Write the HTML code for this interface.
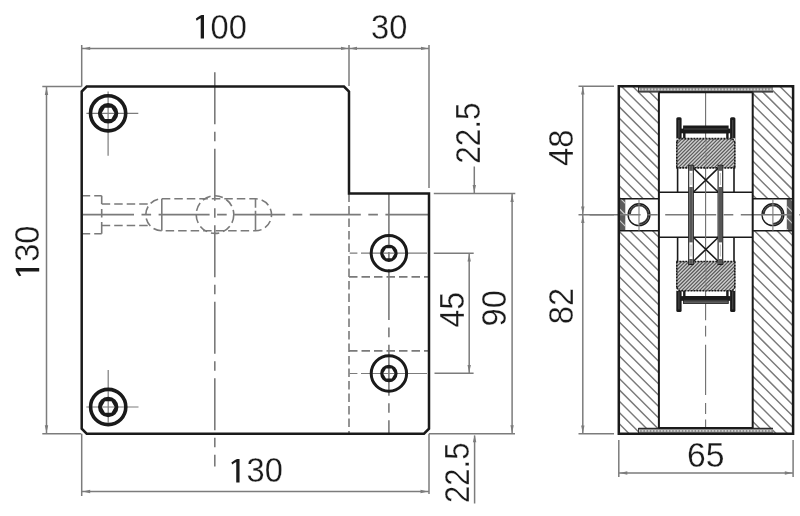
<!DOCTYPE html>
<html><head><meta charset="utf-8"><style>
html,body{margin:0;padding:0;background:#fff;width:800px;height:516px;overflow:hidden}
svg{display:block;filter:grayscale(1)}
.t text{font-family:"Liberation Sans",sans-serif;font-size:35.5px;fill:#1a1a1a;stroke:#fff;stroke-width:0.3px}
.t path{fill:#1a1a1a}
.g{stroke:#7c7c7c;stroke-width:1.5;fill:none}
.d{stroke:#7a7a7a;stroke-width:1.6;fill:none;stroke-dasharray:8.5 4}
.c{stroke:#7a7a7a;stroke-width:1.6;fill:none;stroke-dasharray:51 7.5 9.6 7.5}
.k{stroke:#1a1a1a;stroke-width:2.5;fill:none}
.kk{stroke:#1a1a1a;stroke-width:1.6;fill:none}
</style></head><body>
<svg width="800" height="516" viewBox="0 0 800 516">
<g class="d">
<path d="M81.7,195.7H101.7 M81.7,233.7H101.7 M101.7,204H149 M101.7,225.5H149"/>
<path d="M101.7,195.7V233.7" stroke-dasharray="8.3 5 8.5 4.5 12 10"/>
<path d="M161.8,198.8H255.5 A16,16 0 0 1 255.5,230.8 H161.8 A16,16 0 0 1 161.8,198.8 Z"/>
<circle cx="215" cy="214.6" r="18.8"/>
<path d="M349,193.5V433.7 M349,276.9H429 M349,350.9H429"/>
</g>
<path class="g" d="M161.8,198.8V230.8" style="stroke-width:1.6"/>
<path class="g" d="M255.5,198.8V230.8" style="stroke-width:1.6;stroke-dasharray:9 3 21"/>
<g class="c">
<path d="M214.8,72.2V466.4" style="stroke-dasharray:52 7.5 9.5 7.5"/>
<path d="M83,214.6H429"/>
<path d="M388.9,193.5V433.7"/>
</g>
<g class="t">
<text transform="translate(210.6,39) scale(0.92,1)">00</text>
<text transform="translate(371,39) scale(0.92,1)">30</text>
<text transform="translate(246.5,482) scale(0.92,1)">30</text>
<text transform="translate(39.2,261.8) rotate(-90) scale(0.92,1)">30</text>
<path d="M3.3,0 V-23.5 H0.9 C-1.4,-22.5 -3.5,-21.2 -4.9,-19.9 L-4.0,-17.9 C-2.6,-18.9 -1.3,-19.7 0,-20.3 V0 Z" transform="translate(200.7,38.6)"/>
<path d="M3.3,0 V-23.5 H0.9 C-1.4,-22.5 -3.5,-21.2 -4.9,-19.9 L-4.0,-17.9 C-2.6,-18.9 -1.3,-19.7 0,-20.3 V0 Z" transform="translate(236.25,482.4)"/>
<path d="M3.3,0 V-23.5 H0.9 C-1.4,-22.5 -3.5,-21.2 -4.9,-19.9 L-4.0,-17.9 C-2.6,-18.9 -1.3,-19.7 0,-20.3 V0 Z" transform="translate(39.2,271.4) rotate(-90)"/>
<text transform="translate(480.3,163.8) rotate(-90) scale(0.888,1)">22.5</text>
<text transform="translate(464,327.5) rotate(-90) scale(0.90,1)">45</text>
<text transform="translate(506,326.5) rotate(-90) scale(0.92,1)">90</text>
<text transform="translate(468.8,503) rotate(-90) scale(0.875,1)">22.5</text>
<text transform="translate(573,166) rotate(-90) scale(0.92,1)">48</text>
<text transform="translate(573,324.2) rotate(-90) scale(0.92,1)">82</text>
<text transform="translate(687,467) scale(0.95,1)">65</text>
</g>
<g class="g">
<path d="M81.7,45V86.5 M349,45V86.0 M429,45V188 M81.7,48.4H429"/>
<path d="M42.3,86.5H81.7 M42.3,433.7H81.2 M46.5,86.5V433.7"/>
<path d="M81.7,433.7V496 M429,433.7V494 M81.7,491.5H429"/>
<path d="M433.8,193.5H515.3 M474.3,166.4V193.5 M512.1,193.5V433.7"/>
<path d="M433.8,253.3H473.7 M469.2,253.3V373.3 M434.5,373.3H473.6"/>
<path d="M429,433.7H515 M474.6,435.6V503.5"/>
</g>
<path d="M82.70,48.40L90.20,46.70L90.20,50.10Z" fill="#7c7c7c"/><path d="M348.50,48.40L341.00,50.10L341.00,46.70Z" fill="#7c7c7c"/><path d="M349.50,48.40L357.00,46.70L357.00,50.10Z" fill="#7c7c7c"/><path d="M428.50,48.40L421.00,50.10L421.00,46.70Z" fill="#7c7c7c"/><path d="M46.50,87.50L48.20,95.00L44.80,95.00Z" fill="#7c7c7c"/><path d="M46.50,432.70L44.80,425.20L48.20,425.20Z" fill="#7c7c7c"/><path d="M82.70,491.50L90.20,489.80L90.20,493.20Z" fill="#7c7c7c"/><path d="M428.00,491.50L420.50,493.20L420.50,489.80Z" fill="#7c7c7c"/><path d="M474.30,192.50L472.60,185.00L476.00,185.00Z" fill="#7c7c7c"/><path d="M512.10,194.50L513.80,202.00L510.40,202.00Z" fill="#7c7c7c"/><path d="M512.10,432.70L510.40,425.20L513.80,425.20Z" fill="#7c7c7c"/><path d="M469.20,254.00L470.90,261.50L467.50,261.50Z" fill="#7c7c7c"/><path d="M469.20,372.60L467.50,365.10L470.90,365.10Z" fill="#7c7c7c"/><path d="M474.60,434.70L476.30,442.20L472.90,442.20Z" fill="#7c7c7c"/><path d="M582.80,87.00L584.50,94.50L581.10,94.50Z" fill="#7c7c7c"/><path d="M582.80,214.00L581.10,206.50L584.50,206.50Z" fill="#7c7c7c"/><path d="M582.80,215.60L584.50,223.10L581.10,223.10Z" fill="#7c7c7c"/><path d="M582.80,433.00L581.10,425.50L584.50,425.50Z" fill="#7c7c7c"/><path d="M619.80,473.00L627.30,471.30L627.30,474.70Z" fill="#7c7c7c"/><path d="M792.30,473.00L784.80,474.70L784.80,471.30Z" fill="#7c7c7c"/>
<path class="k" d="M81.7,91.5 L86.7,86.5 H344 L349,91.5 V193.5 H429 V428.7 L424,433.7 H86.7 L81.7,428.7 Z"/>
<g class="g" style="stroke-width:1.2">
<path d="M86.4,113.3H138.3 M108.1,91.5V155.8"/>
<path d="M86.3,407H138.5 M108.2,370V422.8"/>
<path d="M349.7,253.2H357.4 M361,253.2H427 M349.7,373.5H357.4 M361,373.5H427"/>
</g>
<g transform="translate(108.1,113.3)">
<circle r="17.6" class="k" style="stroke-width:3.6"/>
<path d="M-10.2,0 A10.2,10.2 0 1 0 10.2,0 A10.2,10.2 0 1 0 -10.2,0 Z M-6.5,0 L-3.25,-5.63 L3.25,-5.63 L6.5,0 L3.25,5.63 L-3.25,5.63 Z" fill="#1a1a1a" fill-rule="evenodd"/>
</g>
<g transform="translate(108.2,407)">
<circle r="17.6" class="k" style="stroke-width:3.6"/>
<path d="M-10.2,0 A10.2,10.2 0 1 0 10.2,0 A10.2,10.2 0 1 0 -10.2,0 Z M-6.5,0 L-3.25,-5.63 L3.25,-5.63 L6.5,0 L3.25,5.63 L-3.25,5.63 Z" fill="#1a1a1a" fill-rule="evenodd"/>
</g>
<g transform="translate(388.9,253.2)">
<circle r="17.7" class="k" style="stroke-width:3"/>
<path d="M-8.7,0 A8.7,8.7 0 1 0 8.7,0 A8.7,8.7 0 1 0 -8.7,0 Z M-5.8,0 L-2.9,-5.02 L2.9,-5.02 L5.8,0 L2.9,5.02 L-2.9,5.02 Z" fill="#1a1a1a" fill-rule="evenodd"/>
</g>
<g transform="translate(388.9,373.5)">
<circle r="17.7" class="k" style="stroke-width:3"/>
<path d="M-8.7,0 A8.7,8.7 0 1 0 8.7,0 A8.7,8.7 0 1 0 -8.7,0 Z M-5.8,0 L-2.9,-5.02 L2.9,-5.02 L5.8,0 L2.9,5.02 L-2.9,5.02 Z" fill="#1a1a1a" fill-rule="evenodd"/>
</g>
<g class="g">
<path d="M578.5,86.2H614 M578.5,214.7H614 M578.5,433.7H614 M582.8,86.2V433.7"/>
<path d="M618.8,440V477 M793.1,440V477 M618.8,473H793.1"/>
</g>
<path d="M655.22,86.20L658.90,89.88M643.90,86.20L658.90,101.20M632.58,86.20L658.90,112.52M621.26,86.20L658.90,123.84M618.80,95.06L658.90,135.16M618.80,106.38L658.90,146.48M618.80,117.70L658.90,157.80M618.80,129.02L658.90,169.12M618.80,140.34L658.90,180.44M618.80,151.66L658.90,191.76M618.80,162.98L658.90,203.08M618.80,174.30L658.90,214.40M618.80,185.62L658.90,225.72M618.80,196.94L658.90,237.04M618.80,208.26L658.90,248.36M618.80,219.58L658.90,259.68M618.80,230.90L658.90,271.00M618.80,242.22L658.90,282.32M618.80,253.54L658.90,293.64M618.80,264.86L658.90,304.96M618.80,276.18L658.90,316.28M618.80,287.50L658.90,327.60M618.80,298.82L658.90,338.92M618.80,310.14L658.90,350.24M618.80,321.46L658.90,361.56M618.80,332.78L658.90,372.88M618.80,344.10L658.90,384.20M618.80,355.42L658.90,395.52M618.80,366.74L658.90,406.84M618.80,378.06L658.90,418.16M618.80,389.38L658.90,429.48M618.80,400.70L651.80,433.70M618.80,412.02L640.48,433.70M618.80,423.34L629.16,433.70" stroke="#7a7a7a" stroke-width="1.45" fill="none"/>
<path d="M791.06,86.20L793.10,88.24M779.74,86.20L793.10,99.56M768.42,86.20L793.10,110.88M757.10,86.20L793.10,122.20M752.70,93.12L793.10,133.52M752.70,104.44L793.10,144.84M752.70,115.76L793.10,156.16M752.70,127.08L793.10,167.48M752.70,138.40L793.10,178.80M752.70,149.72L793.10,190.12M752.70,161.04L793.10,201.44M752.70,172.36L793.10,212.76M752.70,183.68L793.10,224.08M752.70,195.00L793.10,235.40M752.70,206.32L793.10,246.72M752.70,217.64L793.10,258.04M752.70,228.96L793.10,269.36M752.70,240.28L793.10,280.68M752.70,251.60L793.10,292.00M752.70,262.92L793.10,303.32M752.70,274.24L793.10,314.64M752.70,285.56L793.10,325.96M752.70,296.88L793.10,337.28M752.70,308.20L793.10,348.60M752.70,319.52L793.10,359.92M752.70,330.84L793.10,371.24M752.70,342.16L793.10,382.56M752.70,353.48L793.10,393.88M752.70,364.80L793.10,405.20M752.70,376.12L793.10,416.52M752.70,387.44L793.10,427.84M752.70,398.76L787.64,433.70M752.70,410.08L776.32,433.70M752.70,421.40L765.00,433.70M752.70,432.72L753.68,433.70" stroke="#7a7a7a" stroke-width="1.45" fill="none"/>
<rect x="618.8" y="198.7" width="40.10000000000002" height="32.1" fill="#fff"/>
<rect x="752.7" y="198.7" width="40.39999999999998" height="32.1" fill="#fff"/>
<rect x="619.8" y="198.7" width="5.50" height="32.10" fill="#5c5c5c"/><path d="M620.56,198.70L625.30,203.44M619.80,209.26L625.30,214.76M619.80,220.58L625.30,226.08" stroke="#d0d0d0" stroke-width="1.1" fill="none"/>
<rect x="786.8" y="198.7" width="5.50" height="32.10" fill="#5c5c5c"/><path d="M790.36,198.70L792.30,200.64M786.80,206.46L792.30,211.96M786.80,217.78L792.30,223.28M786.80,229.10L788.50,230.80" stroke="#d0d0d0" stroke-width="1.1" fill="none"/>
<path class="kk" d="M618.8,198.7H658.9 M618.8,230.8H658.9 M752.7,198.7H793.1 M752.7,230.8H793.1"/>
<circle cx="639" cy="214.7" r="10.9" class="kk" style="stroke-width:1.4"/>
<circle cx="772.9" cy="214.7" r="10.9" class="kk" style="stroke-width:1.4"/>
<path d="M629.7,214.7 A9.3,9.3 0 1 1 639,224.0" stroke="#333" stroke-width="1.9" fill="none"/>
<path d="M763.6,214.7 A9.3,9.3 0 1 1 772.9,224.0" stroke="#333" stroke-width="1.9" fill="none"/>
<path class="g" d="M639,198.7V230.8 M772.9,198.7V230.8" style="stroke-width:1.1"/>
<g>
<rect x="638.5" y="86.5" width="134.5" height="5.7" fill="#8a8a8a"/>
<path d="M638.5,89.4H773" stroke="#d2d2d2" stroke-width="1.7" stroke-dasharray="1.7 1.5"/>
<path d="M638.5,86.5V92.2" stroke="#333" stroke-width="1"/>
<path d="M638.5,91.9H773" stroke="#2a2a2a" stroke-width="1.3"/>
</g>
<g transform="translate(0,520.2) scale(1,-1)">
<rect x="638.5" y="86.5" width="134.5" height="5.7" fill="#8a8a8a"/>
<path d="M638.5,89.4H773" stroke="#d2d2d2" stroke-width="1.7" stroke-dasharray="1.7 1.5"/>
<path d="M638.5,86.5V92.2" stroke="#333" stroke-width="1"/>
<path d="M638.5,91.9H773" stroke="#2a2a2a" stroke-width="1.3"/>
</g>
<rect x="658.9" y="192.2" width="93.80000000000007" height="45" fill="#fff"/>
<path class="kk" d="M658.9,192.2H752.7 M658.9,237.2H752.7"/>
<path class="c" d="M589.6,214.7H800"/>

<path d="M705.6,92V320.3 M705.6,325.8V336.6 M705.6,344.8V395 M705.6,403V414 M705.6,419.4V428" stroke="#6e6e6e" stroke-width="1.1"/>
<g>
<path d="M676.8,167.9V167.9 M734.8,167.9V167.9" class="kk" style="stroke-dasharray:2 1"/>
<path class="kk" d="M677.6,167.9V192.2 M734,167.9V192.2"/>
<rect x="676.3" y="117.3" width="5.3" height="24" fill="#1a1a1a" rx="1.5"/>
<rect x="730.1" y="117.3" width="5.3" height="24" fill="#1a1a1a" rx="1.5"/>
<path d="M678.95,120V138 M732.75,120V138" stroke="#5a5a5a" stroke-width="0.9"/>
<rect x="683.1" y="125.5" width="45.5" height="7.8" fill="#1a1a1a"/>
<rect x="681" y="128.6" width="49.6" height="4.7" fill="#1a1a1a"/>
<path d="M684,129H727.7" stroke="#555" stroke-width="0.8"/>
<path class="kk" d="M684.3,133V138.6 M727.4,133V138.6" style="stroke-width:2.4"/>
<path class="kk" d="M693.3,167.9L718.4,192.2 M718.4,167.9L693.3,192.2"/>
</g>
<g transform="translate(0,429.4) scale(1,-1)">
<path d="M676.8,167.9V167.9 M734.8,167.9V167.9" class="kk" style="stroke-dasharray:2 1"/>
<path class="kk" d="M677.6,167.9V192.2 M734,167.9V192.2"/>
<rect x="676.3" y="117.3" width="5.3" height="24" fill="#1a1a1a" rx="1.5"/>
<rect x="730.1" y="117.3" width="5.3" height="24" fill="#1a1a1a" rx="1.5"/>
<path d="M678.95,120V138 M732.75,120V138" stroke="#5a5a5a" stroke-width="0.9"/>
<rect x="683.1" y="125.5" width="45.5" height="7.8" fill="#1a1a1a"/>
<rect x="681" y="128.6" width="49.6" height="4.7" fill="#1a1a1a"/>
<path d="M684,129H727.7" stroke="#555" stroke-width="0.8"/>
<path class="kk" d="M684.3,133V138.6 M727.4,133V138.6" style="stroke-width:2.4"/>
<path class="kk" d="M693.3,167.9L718.4,192.2 M718.4,167.9L693.3,192.2"/>
</g>
<rect x="683.6" y="301.0" width="44.5" height="2.6" fill="#5e5e5e" stroke="#2a2a2a" stroke-width="0.6"/>
<rect x="676.3" y="138.6" width="59.00" height="29.30" fill="#cdcdcd"/><path d="M676.30,140.90L678.60,138.60M676.30,144.50L682.20,138.60M676.30,148.10L685.80,138.60M676.30,151.70L689.40,138.60M676.30,155.30L693.00,138.60M676.30,158.90L696.60,138.60M676.30,162.50L700.20,138.60M676.30,166.10L703.80,138.60M678.10,167.90L707.40,138.60M681.70,167.90L711.00,138.60M685.30,167.90L714.60,138.60M688.90,167.90L718.20,138.60M692.50,167.90L721.80,138.60M696.10,167.90L725.40,138.60M699.70,167.90L729.00,138.60M703.30,167.90L732.60,138.60M706.90,167.90L735.30,139.50M710.50,167.90L735.30,143.10M714.10,167.90L735.30,146.70M717.70,167.90L735.30,150.30M721.30,167.90L735.30,153.90M724.90,167.90L735.30,157.50M728.50,167.90L735.30,161.10M732.10,167.90L735.30,164.70" stroke="#585858" stroke-width="1.15" fill="none"/>
<path d="M676.3,138.6H679.3L676.3,141.6Z M735.3,138.6H732.3L735.3,141.6Z" fill="#fff"/>
<path class="kk" d="M676.8,141.6 L679.3,138.6 H732.3 L734.8,141.6 M676.3,167.9H735.3 M676.8,141.6V167.9 M734.8,141.6V167.9" style="stroke-dasharray:2 1"/>
<rect x="676.3" y="261.5" width="59.00" height="29.30" fill="#cdcdcd"/><path d="M676.30,263.30L678.10,261.50M676.30,266.90L681.70,261.50M676.30,270.50L685.30,261.50M676.30,274.10L688.90,261.50M676.30,277.70L692.50,261.50M676.30,281.30L696.10,261.50M676.30,284.90L699.70,261.50M676.30,288.50L703.30,261.50M677.60,290.80L706.90,261.50M681.20,290.80L710.50,261.50M684.80,290.80L714.10,261.50M688.40,290.80L717.70,261.50M692.00,290.80L721.30,261.50M695.60,290.80L724.90,261.50M699.20,290.80L728.50,261.50M702.80,290.80L732.10,261.50M706.40,290.80L735.30,261.90M710.00,290.80L735.30,265.50M713.60,290.80L735.30,269.10M717.20,290.80L735.30,272.70M720.80,290.80L735.30,276.30M724.40,290.80L735.30,279.90M728.00,290.80L735.30,283.50M731.60,290.80L735.30,287.10M735.20,290.80L735.30,290.70" stroke="#585858" stroke-width="1.15" fill="none"/>
<path d="M676.3,290.79999999999995H679.3L676.3,287.79999999999995Z M735.3,290.79999999999995H732.3L735.3,287.79999999999995Z" fill="#fff"/>
<path class="kk" d="M676.8,287.79999999999995 L679.3,290.79999999999995 H732.3 L734.8,287.79999999999995 M676.3,261.5H735.3 M676.8,261.5V287.79999999999995 M734.8,261.5V287.79999999999995" style="stroke-dasharray:2 1"/>
<path d="M706,138.6V167.9 M706,261.5V290.79999999999995" stroke="#777" stroke-width="1" stroke-dasharray="4 3"/>
<g>
<rect x="688.7" y="165.3" width="4.6" height="99.2" fill="#fff" stroke="#1a1a1a" stroke-width="1.1"/>
<rect x="689.2" y="187" width="3.6" height="55.4" fill="#555"/>
<rect x="689.2" y="165.8" width="3.6" height="5" fill="#555"/>
<rect x="689.2" y="259" width="3.6" height="5" fill="#555"/>
<path d="M691,173V185 M691,244.5V256.5" stroke="#aaa" stroke-width="0.8"/>
</g>
<g transform="translate(29.4,0)">
<rect x="688.7" y="165.3" width="4.6" height="99.2" fill="#fff" stroke="#1a1a1a" stroke-width="1.1"/>
<rect x="689.2" y="187" width="3.6" height="55.4" fill="#555"/>
<rect x="689.2" y="165.8" width="3.6" height="5" fill="#555"/>
<rect x="689.2" y="259" width="3.6" height="5" fill="#555"/>
<path d="M691,173V185 M691,244.5V256.5" stroke="#aaa" stroke-width="0.8"/>
</g>
<path class="k" d="M618.8,86.2 H793.1 V433.7 H618.8 Z"/>
<path class="kk" d="M658.9,92.2V428 M752.7,92.2V428 M658.9,92.2H752.7 M658.9,428H752.7" style="stroke-width:2"/>
</svg>
</body></html>
